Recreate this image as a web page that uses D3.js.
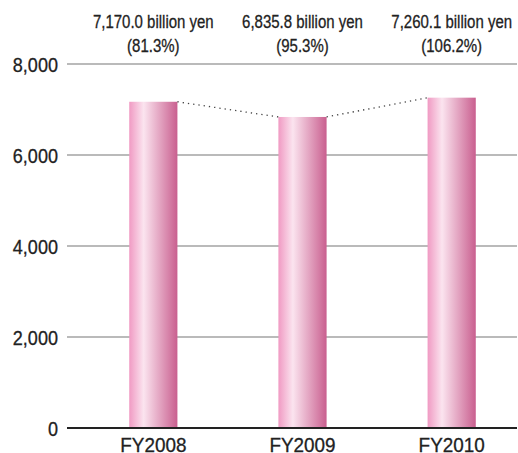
<!DOCTYPE html>
<html>
<head>
<meta charset="utf-8">
<script src="https://cdn.jsdelivr.net/npm/d3@7"></script>
<style>
    body { margin: 0; background: #fff; }
    svg text { font-family: "Liberation Sans", Arial, sans-serif; fill: #222; stroke: #222; stroke-width: 0.3px; }
</style>
</head>
<body>
<div id="chart"></div>
<script>
const years = ['FY2008', 'FY2009', 'FY2010'];
const sales = [7170.0, 6835.8, 7260.1];
const salesLabels = ['7,170.0 billion yen', '6,835.8 billion yen', '7,260.1 billion yen'];
const ratioLabels = ['(81.3%)', '(95.3%)', '(106.2%)'];
const yTicks = [0, 2000, 4000, 6000, 8000];

const width = 518, height = 453;
const plotLeft = 67, plotRight = 517, plotTop = 64, plotBottom = 428;

const svg = d3.select('#chart').append('svg')
    .attr('width', width)
    .attr('height', height);

// condensed look: squeeze the text horizontally
const squeeze = (x, y, s) => `translate(${x},${y}) scale(${s},1)`;

// bar gradient: pink -> pale highlight -> deeper rose
const defs = svg.append('defs');
const grad = defs.append('linearGradient')
    .attr('id', 'barGrad')
    .attr('x1', '0%').attr('x2', '100%').attr('y1', '0%').attr('y2', '0%');
grad.append('stop').attr('offset', '0%').attr('stop-color', '#f09ac3');
grad.append('stop').attr('offset', '30%').attr('stop-color', '#fbe4ef');
grad.append('stop').attr('offset', '100%').attr('stop-color', '#c95f8f');

const y = d3.scaleLinear().domain([0, 8000]).range([plotBottom, plotTop]);
const x = d3.scaleBand().domain(years)
    .range([80, 525])
    .paddingInner(0.677)
    .paddingOuter(0.33);

// gridlines
svg.append('g')
    .selectAll('line')
    .data(yTicks.filter(d => d > 0))
    .enter()
    .append('line')
    .attr('x1', plotLeft).attr('x2', plotRight)
    .attr('y1', d => y(d)).attr('y2', d => y(d))
    .attr('stroke', '#a3a3a3')
    .attr('stroke-width', 1.5);

// y tick labels
svg.append('g')
    .selectAll('text')
    .data(yTicks)
    .enter()
    .append('text')
    .attr('transform', d => squeeze(58, y(d) + 7.5, 0.86))
    .attr('text-anchor', 'end')
    .style('font-size', '21px')
    .text(d => d3.format(',')(d));

const data = years.map((yr, i) => ({ year: yr, value: sales[i], label: salesLabels[i], ratio: ratioLabels[i] }));

// bars
svg.append('g')
    .selectAll('rect')
    .data(data)
    .enter()
    .append('rect')
    .attr('x', d => x(d.year))
    .attr('y', d => y(d.value))
    .attr('width', x.bandwidth())
    .attr('height', d => y(0) - y(d.value))
    .attr('fill', 'url(#barGrad)');

// dotted connectors between bar tops
const pairs = d3.pairs(data);
svg.append('g')
    .selectAll('line')
    .data(pairs)
    .enter()
    .append('line')
    .attr('x1', d => x(d[0].year) + x.bandwidth())
    .attr('y1', d => y(d[0].value))
    .attr('x2', d => x(d[1].year))
    .attr('y2', d => y(d[1].value))
    .attr('stroke', '#444')
    .attr('stroke-width', 1.3)
    .attr('stroke-dasharray', '1.3,4');

// axis baseline
svg.append('line')
    .attr('x1', plotLeft).attr('x2', plotRight)
    .attr('y1', y(0)).attr('y2', y(0))
    .attr('stroke', '#222')
    .attr('stroke-width', 2);

// x labels
svg.append('g')
    .selectAll('text')
    .data(years)
    .enter()
    .append('text')
    .attr('transform', d => squeeze(x(d) + x.bandwidth() / 2, 452, 0.9))
    .attr('text-anchor', 'middle')
    .style('font-size', '21px')
    .text(d => d);

// value labels above the plot
const labels = svg.append('g')
    .selectAll('g')
    .data(data)
    .enter()
    .append('g');

labels.append('text')
    .attr('transform', d => squeeze(x(d.year) + x.bandwidth() / 2, 28, 0.81))
    .attr('text-anchor', 'middle')
    .style('font-size', '18.5px')
    .text(d => d.label);

labels.append('text')
    .attr('transform', d => squeeze(x(d.year) + x.bandwidth() / 2, 51.5, 0.81))
    .attr('text-anchor', 'middle')
    .style('font-size', '18.5px')
    .text(d => d.ratio);
</script>
</body>
</html>
